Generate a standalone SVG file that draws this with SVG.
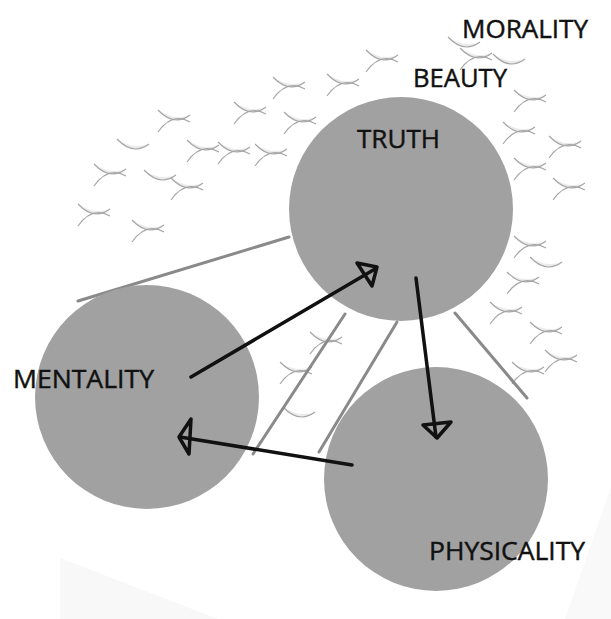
<svg xmlns="http://www.w3.org/2000/svg" width="611" height="619" viewBox="0 0 611 619">
<style>
.node{fill:#a1a1a1}
.lbl{font-family:"Open Sans","Noto Sans","DejaVu Sans",sans-serif;font-size:26px;fill:#111;stroke:#111;stroke-width:0.45}
.guide{stroke:#8a8a8a;stroke-width:3;stroke-linecap:round;fill:none}
.arrow{stroke:#111;stroke-width:3.5;stroke-linecap:round;fill:none}
.head{stroke:#111;stroke-width:3.5;stroke-linejoin:round;fill:none}
.wv{stroke:#a5a5a5;stroke-width:1.1;fill:none}
.wf{fill:#ebebeb;stroke:none}
</style>
<defs>
<g id="w">
<path class="wf" d="M0,2 Q16,19 32,7 Q16,13 0,2Z"/>
<path class="wv" d="M0,2 Q16,19 32,7"/>
<path class="wv" d="M0,24 Q14,4 32,14"/>
</g>
<g id="h">
<path class="wf" d="M0,2 Q16,19 32,7 Q16,13 0,2Z"/>
<path class="wv" d="M0,2 Q16,19 32,7"/>
</g>
</defs>
<rect width="611" height="619" fill="#ffffff"/>
<polygon points="60,558 218,619 60,619" fill="#f8f8f8"/>
<polygon points="611,487 611,619 565,619" fill="#f9f9f9"/>
<g id="texture">
<use href="#h" x="448" y="35"/>
<use href="#w" x="460" y="46"/>
<use href="#h" x="493" y="52"/>
<use href="#w" x="366" y="48"/>
<use href="#w" x="273" y="75"/>
<use href="#w" x="327" y="72"/>
<use href="#w" x="234" y="100"/>
<use href="#w" x="158" y="108"/>
<use href="#w" x="284" y="110"/>
<use href="#h" x="117" y="137"/>
<use href="#w" x="187" y="138"/>
<use href="#w" x="218" y="140"/>
<use href="#w" x="255" y="142"/>
<use href="#w" x="94" y="162"/>
<use href="#h" x="144" y="168"/>
<use href="#w" x="171" y="176"/>
<use href="#w" x="78" y="202"/>
<use href="#w" x="132" y="218"/>
<use href="#w" x="514" y="88"/>
<use href="#w" x="503" y="120"/>
<use href="#w" x="549" y="134"/>
<use href="#w" x="514" y="156"/>
<use href="#w" x="553" y="176"/>
<use href="#w" x="514" y="234"/>
<use href="#h" x="530" y="255"/>
<use href="#w" x="507" y="270"/>
<use href="#w" x="490" y="300"/>
<use href="#w" x="530" y="320"/>
<use href="#w" x="545" y="348"/>
<use href="#w" x="512" y="360"/>
<use href="#w" x="280" y="360"/>
<use href="#w" x="310" y="330"/>
<use href="#h" x="283" y="405"/>
</g>
<g id="guides">
<line class="guide" x1="78" y1="301" x2="289" y2="237"/>
<line class="guide" x1="345" y1="314" x2="253" y2="454"/>
<line class="guide" x1="397" y1="322" x2="319" y2="452"/>
<line class="guide" x1="455" y1="313" x2="527" y2="398"/>
</g>
<g id="node-truth">
<circle class="node" cx="401" cy="209" r="112"/>
<text class="lbl" x="357" y="148" textLength="83" lengthAdjust="spacingAndGlyphs">TRUTH</text>
</g>
<g id="node-mentality">
<circle class="node" cx="147" cy="397" r="112"/>
<text class="lbl" x="13" y="388" textLength="141" lengthAdjust="spacingAndGlyphs">MENTALITY</text>
</g>
<g id="node-physicality">
<circle class="node" cx="436" cy="479" r="112"/>
<text class="lbl" x="429" y="560" textLength="156" lengthAdjust="spacingAndGlyphs">PHYSICALITY</text>
</g>
<g id="label-beauty">
<text class="lbl" x="413" y="87" textLength="94" lengthAdjust="spacingAndGlyphs">BEAUTY</text>
</g>
<g id="label-morality">
<text class="lbl" x="462" y="38" textLength="126" lengthAdjust="spacingAndGlyphs">MORALITY</text>
</g>
<g id="connectors">
<line class="arrow" x1="191" y1="377" x2="375" y2="269"/>
<polygon class="head" points="357,263 377,267 372,286"/>
<line class="arrow" x1="416" y1="278" x2="436" y2="437"/>
<polygon class="head" points="423,425 451,422 437,438"/>
<line class="arrow" x1="352" y1="465" x2="180" y2="437"/>
<polygon class="head" points="191,419 179,437 189,454"/>
</g>
</svg>
